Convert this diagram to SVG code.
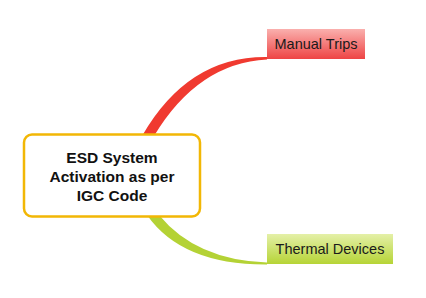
<svg xmlns="http://www.w3.org/2000/svg" width="426" height="298" viewBox="0 0 426 298">
<defs>
<linearGradient id="gRed" x1="0" y1="0" x2="0" y2="1">
<stop offset="0" stop-color="#FAB0AE"/>
<stop offset="1" stop-color="#EE4444"/>
</linearGradient>
<linearGradient id="gGreen" x1="0" y1="0" x2="0" y2="1">
<stop offset="0" stop-color="#E4F0A8"/>
<stop offset="1" stop-color="#B6D436"/>
</linearGradient>
<style>
.lbl{font-family:"Liberation Sans",Arial,sans-serif;font-size:14.5px;fill:#1a1a1a;text-anchor:middle}
.ctr{font-family:"Liberation Sans",Arial,sans-serif;font-size:15.5px;font-weight:bold;fill:#111;text-anchor:middle}
</style>
</defs>
<rect width="426" height="298" fill="#fff"/>
<g id="connectors">
<path d="M142,136 Q188,56 267,57 L267,59.5 Q198,63 154,136 Z" fill="#F03A30"/>
<path d="M147,215 Q182,265 267,264.5 L267,262.5 Q196,260 159,215 Z" fill="#B4D235"/>
</g>
<g id="center">
<rect x="24" y="134.5" width="176" height="82" rx="8" ry="8" fill="#fff" stroke="#F2B705" stroke-width="2.5"/>
<text class="ctr" x="112" y="163">ESD System</text>
<text class="ctr" x="112" y="182">Activation as per</text>
<text class="ctr" x="112" y="201">IGC Code</text>
</g>
<g id="manual-trips">
<rect x="267" y="29" width="98" height="30" fill="url(#gRed)"/>
<text class="lbl" x="316" y="49">Manual Trips</text>
</g>
<g id="thermal-devices">
<rect x="267" y="234" width="126" height="30" fill="url(#gGreen)"/>
<text class="lbl" x="330" y="254">Thermal Devices</text>
</g>
</svg>
